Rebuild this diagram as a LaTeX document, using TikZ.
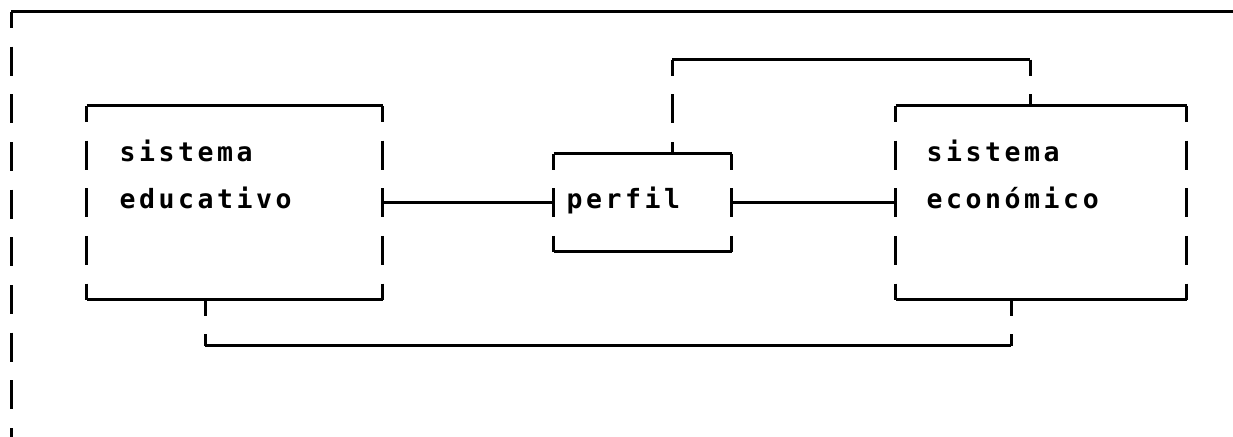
\documentclass[tikz,border=0pt]{standalone}
\usepackage{fontspec}
\newfontfamily\dotfont[LetterSpace=13.5]{DejaVu Sans Mono Bold}
\begin{document}
\begin{tikzpicture}[x=1pt,y=-1pt,
  line width=3pt,
  % vertical rules of a character grid: one bar per text row
  vbar/.style={dash pattern=on 29pt off 18.67pt, dash phase=13pt},
  hbar/.style={solid},
  frame/.style={rectangle, draw=none, inner sep=0pt},
  label/.style={anchor=base west, inner sep=0pt,
                font=\dotfont\fontsize{26.5}{30}\selectfont}]
\useasboundingbox (0,0) rectangle (1233,436);

% row positions of the horizontal rules
\def\hA{12}\def\hB{59.67}\def\hC{107.34}\def\hD{155.01}
\def\hE{202.68}\def\hF{250.35}\def\hG{298.02}\def\hH{345.69}

\newcommand{\gridbox}[1]{%
  \draw[hbar] (#1.north west) -- (#1.north east);
  \draw[hbar] (#1.south west) -- (#1.south east);
  \draw[vbar] (#1.north west) -- (#1.south west);
  \draw[vbar] (#1.north east) -- (#1.south east);}

% outer page rule
\coordinate (tl) at (11,\hA);
\coordinate (tr) at (1240,\hA);
\coordinate (bl) at (11,445);
\draw[hbar] (tl) -- (tr);
\draw[vbar] (tl) -- (bl);

% boxes
\node[frame, minimum width=293pt, minimum height=190.68pt] (edu) at (234.5,\hE) {};
\node[frame, minimum width=175pt, minimum height=95.34pt] (perfil) at (642.5,\hE) {};
\node[frame, minimum width=288pt, minimum height=190.68pt] (eco) at (1041,\hE) {};
\gridbox{edu}
\gridbox{perfil}
\gridbox{eco}

% texts
\node[label] (edu1) at (118,161) {sistema};
\node[label] (edu2) at (118,208.5) {educativo};
\node[label] (per1) at (565,208.5) {perfil};
\node[label] (eco1) at (925,161) {sistema};
\node[label] (eco2) at (925,208.5) {económico};

% direct links
\draw[hbar] (edu.east) -- (perfil.west);
\draw[hbar] (perfil.east) -- (eco.west);

% upper link perfil -- sistema económico
\coordinate (u1) at (672,\hB);
\coordinate (u2) at (1030,\hB);
\draw[vbar] (u1) -- (u1 |- perfil.north);
\draw[hbar] (u1) -- (u2);
\draw[vbar] (u2) -- (u2 |- eco.north);

% lower link sistema educativo -- sistema económico
\coordinate (d1) at (205,\hH);
\coordinate (d2) at (1011,\hH);
\draw[vbar] (d1 |- edu.south) -- (d1);
\draw[hbar] (d1) -- (d2);
\draw[vbar] (d2 |- eco.south) -- (d2);
\end{tikzpicture}
\end{document}
